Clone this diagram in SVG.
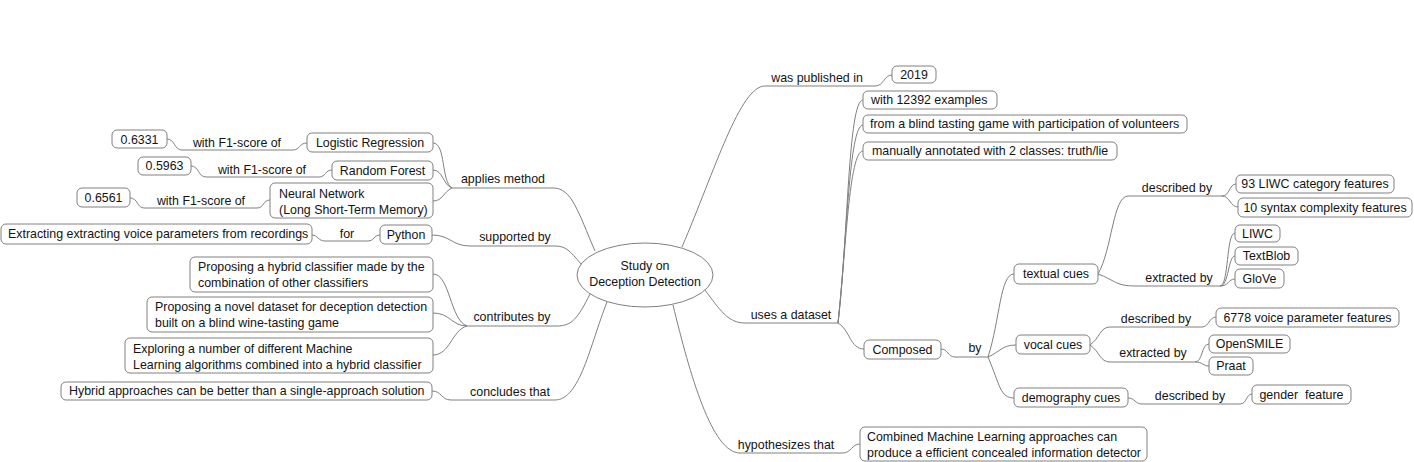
<svg xmlns="http://www.w3.org/2000/svg" width="1414" height="462" viewBox="0 0 1414 462">
<style>
.bg{fill:#ffffff}
.box{fill:#ffffff;stroke:#808080;stroke-width:1}
.root{fill:#ffffff;stroke:#808080;stroke-width:1}
.t{font-family:"Liberation Sans",Arial,sans-serif;font-size:12.4px;fill:#141414}
.m{text-anchor:middle}
.c{fill:none;stroke:#808080;stroke-width:1}
</style>
<rect class="bg" x="0" y="0" width="1414" height="462"/>
<g id="connectors">
<path class="c" d="M595,251 C578,212 572,188 553,188 L452,188"/>
<path class="c" d="M452,188 C441,182 446,143 433,143"/>
<path class="c" d="M452,188 C443,185 443,170 433,170"/>
<path class="c" d="M452,188 C443,192 443,201 433,201"/>
<path class="c" d="M307,143 C299,143 300,150 293,150 L182,150 C174,150 175,139 167,139"/>
<path class="c" d="M332,170 C325,170 326,177 319,177 L206,177 C198,177 199,166 191,166"/>
<path class="c" d="M270,200 C263,200 264,208 257,208 L144,208 C137,208 138,198 130,198"/>
<path class="c" d="M581,264 C570,251 566,246 555,246 L470,246 C452,246 450,235 432,235"/>
<path class="c" d="M380,235 C374,235 374,241 368,241 L325,241 C318,241 318,235 312,235"/>
<path class="c" d="M590,294 C578,318 572,326 557,326 L467,326"/>
<path class="c" d="M467,326 C450,320 450,274 433,274"/>
<path class="c" d="M467,326 C452,326 450,313 433,313"/>
<path class="c" d="M467,326 C452,330 450,355 433,355"/>
<path class="c" d="M607,302 C590,345 580,400 555,400 L451,400 C441,400 442,391 432,391"/>
<path class="c" d="M682,247 C715,170 740,86 765,86 L875,86 C884,86 884,75 892,75"/>
<path class="c" d="M705,290 C720,310 728,323 745,323 L838,323"/>
<path class="c" d="M838,323 C848,240 848,100 863,100"/>
<path class="c" d="M838,323 C847,240 849,125 863,125"/>
<path class="c" d="M838,323 C846,250 849,151 863,151"/>
<path class="c" d="M838,323 C850,330 850,349 864,349"/>
<path class="c" d="M941,349 C948,349 948,357 955,357 L988,357"/>
<path class="c" d="M988,357 C1000,320 1000,274 1014,274"/>
<path class="c" d="M988,357 C1000,352 1002,345 1016,345"/>
<path class="c" d="M988,357 C1000,385 1000,398 1014,398"/>
<path class="c" d="M1098,274 C1112,250 1113,196 1128,196 L1222,196"/>
<path class="c" d="M1222,196 C1230,196 1229,184 1236,184"/>
<path class="c" d="M1222,196 C1230,196 1230,207 1238,207"/>
<path class="c" d="M1098,274 C1115,280 1115,286 1135,286 L1220,286"/>
<path class="c" d="M1220,286 C1229,286 1226,233 1235,233"/>
<path class="c" d="M1220,286 C1229,286 1228,256 1235,256"/>
<path class="c" d="M1220,286 C1229,286 1228,279 1235,279"/>
<path class="c" d="M1090,345 C1100,338 1100,327 1110,327 L1202,327 C1209,327 1209,317 1216,317"/>
<path class="c" d="M1090,345 C1100,352 1100,362 1110,362 L1195,362"/>
<path class="c" d="M1195,362 C1203,362 1201,344 1209,344"/>
<path class="c" d="M1195,362 C1203,362 1203,366 1209,366"/>
<path class="c" d="M1128,398 C1135,398 1135,404 1142,404 L1240,404 C1247,404 1246,394 1252,394"/>
<path class="c" d="M673,305 C690,375 712,453 740,453 L843,453 C851,453 852,444 860,444"/>
<text class="t m" x="503" y="183">applies method</text>
<text class="t m" x="237" y="147">with F1-score of</text>
<text class="t m" x="262" y="174">with F1-score of</text>
<text class="t m" x="201" y="205">with F1-score of</text>
<text class="t m" x="515" y="241">supported by</text>
<text class="t m" x="347" y="238">for</text>
<text class="t m" x="512" y="321">contributes by</text>
<text class="t m" x="510" y="396">concludes that</text>
<text class="t m" x="817" y="82">was published in</text>
<text class="t m" x="791" y="319">uses a dataset</text>
<text class="t m" x="975" y="352">by</text>
<text class="t m" x="1177" y="192">described by</text>
<text class="t m" x="1179" y="282">extracted by</text>
<text class="t m" x="1156" y="323">described by</text>
<text class="t m" x="1153" y="357">extracted by</text>
<text class="t m" x="1190" y="400">described by</text>
<text class="t m" x="786" y="449">hypothesizes that</text>
</g>
<g id="root">
<ellipse class="root" cx="645" cy="275" rx="68" ry="32"/>
<text class="t m" x="645" y="270">Study on</text>
<text class="t m" x="645" y="286">Deception Detection</text>
</g>
<g id="n-0.6331"><rect class="box" x="112" y="130" width="55" height="18" rx="5"/><text class="t m" x="139.5" y="144">0.6331</text></g>
<g id="n-0.5963"><rect class="box" x="138" y="157" width="53" height="18" rx="5"/><text class="t m" x="164.5" y="170">0.5963</text></g>
<g id="n-0.6561"><rect class="box" x="77" y="188" width="53" height="19" rx="5"/><text class="t m" x="103.5" y="202">0.6561</text></g>
<g id="n-logreg"><rect class="box" x="307" y="133" width="126" height="19" rx="5"/><text class="t m" x="370" y="147">Logistic Regression</text></g>
<g id="n-rf"><rect class="box" x="332" y="161" width="101" height="19" rx="5"/><text class="t m" x="382.5" y="175">Random Forest</text></g>
<g id="n-nn"><rect class="box" x="270" y="183" width="163" height="35" rx="5"/><text class="t" x="279" y="198">Neural Network</text><text class="t" x="279" y="214">(Long Short-Term Memory)</text></g>
<g id="n-extracting"><rect class="box" x="1" y="224" width="311" height="20" rx="5"/><text class="t" x="8" y="238">Extracting extracting voice parameters from recordings</text></g>
<g id="n-python"><rect class="box" x="380" y="225" width="52" height="19" rx="5"/><text class="t m" x="406" y="239">Python</text></g>
<g id="n-hybrid"><rect class="box" x="190" y="257" width="243" height="35" rx="5"/><text class="t" x="198" y="271">Proposing a hybrid classifier made by the</text><text class="t" x="198" y="287">combination of other classifiers</text></g>
<g id="n-dataset"><rect class="box" x="147" y="297" width="286" height="35" rx="5"/><text class="t" x="155" y="311">Proposing a novel dataset for deception detection</text><text class="t" x="155" y="327">built on a blind wine-tasting game</text></g>
<g id="n-exploring"><rect class="box" x="125" y="338" width="308" height="35" rx="5"/><text class="t" x="133" y="353">Exploring a number of different Machine</text><text class="t" x="133" y="369">Learning algorithms combined into a hybrid classifier</text></g>
<g id="n-conclusion"><rect class="box" x="61" y="382" width="371" height="18" rx="5"/><text class="t" x="69" y="395">Hybrid approaches can be better than a single-approach solution</text></g>
<g id="n-2019"><rect class="box" x="892" y="66" width="44" height="17" rx="5"/><text class="t m" x="914" y="79">2019</text></g>
<g id="n-examples"><rect class="box" x="863" y="91" width="134" height="18" rx="5"/><text class="t" x="871" y="104">with 12392 examples</text></g>
<g id="n-blind"><rect class="box" x="863" y="115" width="324" height="18" rx="5"/><text class="t" x="870" y="128">from a blind tasting game with participation of volunteers</text></g>
<g id="n-annotated"><rect class="box" x="863" y="142" width="254" height="18" rx="5"/><text class="t" x="872" y="155">manually annotated with 2 classes: truth/lie</text></g>
<g id="n-composed"><rect class="box" x="864" y="340" width="77" height="19" rx="5"/><text class="t m" x="902.5" y="354">Composed</text></g>
<g id="n-textual"><rect class="box" x="1014" y="264" width="84" height="20" rx="5"/><text class="t m" x="1056" y="278">textual cues</text></g>
<g id="n-93liwc"><rect class="box" x="1236" y="175" width="158" height="18" rx="5"/><text class="t m" x="1315" y="188">93 LIWC category features</text></g>
<g id="n-10syntax"><rect class="box" x="1238" y="198" width="174" height="19" rx="5"/><text class="t m" x="1325" y="212">10 syntax complexity features</text></g>
<g id="n-liwc"><rect class="box" x="1235" y="225" width="45" height="17" rx="5"/><text class="t m" x="1257.5" y="238">LIWC</text></g>
<g id="n-textblob"><rect class="box" x="1235" y="247" width="63" height="18" rx="5"/><text class="t m" x="1266.5" y="260">TextBlob</text></g>
<g id="n-glove"><rect class="box" x="1235" y="269" width="49" height="19" rx="5"/><text class="t m" x="1259.5" y="283">GloVe</text></g>
<g id="n-vocal"><rect class="box" x="1016" y="335" width="74" height="19" rx="5"/><text class="t m" x="1053" y="349">vocal cues</text></g>
<g id="n-6778"><rect class="box" x="1216" y="308" width="183" height="19" rx="5"/><text class="t m" x="1307.5" y="322">6778 voice parameter features</text></g>
<g id="n-opensmile"><rect class="box" x="1209" y="335" width="81" height="18" rx="5"/><text class="t m" x="1249.5" y="348">OpenSMILE</text></g>
<g id="n-praat"><rect class="box" x="1209" y="357" width="44" height="18" rx="5"/><text class="t m" x="1231" y="370">Praat</text></g>
<g id="n-demography"><rect class="box" x="1014" y="388" width="114" height="19" rx="5"/><text class="t m" x="1071" y="402">demography cues</text></g>
<g id="n-gender"><rect class="box" x="1252" y="385" width="99" height="19" rx="5"/><text class="t m" x="1301.5" y="399" style="white-space:pre" xml:space="preserve">gender  feature</text></g>
<g id="n-hypothesis"><rect class="box" x="860" y="427" width="287" height="34" rx="5"/><text class="t" x="867" y="441">Combined Machine Learning approaches can</text><text class="t" x="867" y="457">produce a efficient concealed information detector</text></g>
</svg>
